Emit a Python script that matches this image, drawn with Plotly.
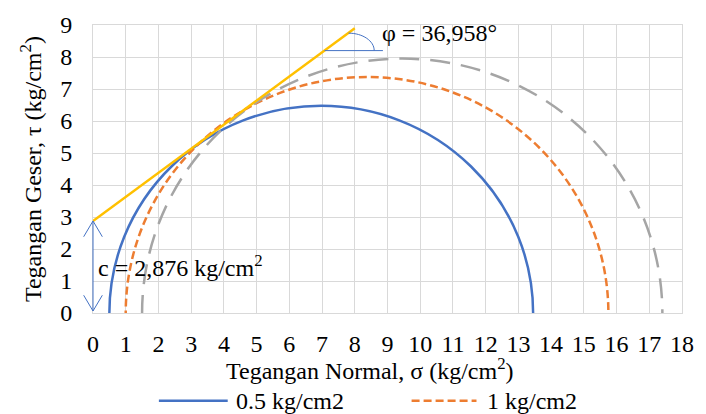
import math
import plotly.graph_objects as go

# ---- data ----
labels = ["0.5 kg/cm2", "1 kg/cm2", "1.5 kg/cm2"]
sigma3 = [0.5, 1.0, 1.5]          # minor principal stress (kg/cm2)
sigma1 = [13.45, 15.75, 17.4]     # major principal stress (kg/cm2)
cohesion = 2.876                  # kg/cm2
phi_deg = 36.958                  # degrees
envelope_x = [0, 8]
x_ticks = list(range(0, 19))
y_ticks = list(range(0, 10))

# ---- styles ----
colors = ["#4472C4", "#ED7D31", "#A5A5A5"]
dashes = ["solid", "8px,4px", "20px,11px"]
FONT = "Liberation Serif, Times New Roman, serif"
FS = 24
W, H = 706, 414
ML, MR, MT, MB = 93, 14, 21, 101
PW, PH = W - ML - MR, H - MT - MB
XMAX, YMAX = 18, 9

def px(x):  # pixel x -> paper
    return (x - ML) / PW

def py(y):  # pixel y -> paper
    return (H - MB - y) / PH

tanphi = math.tan(math.radians(phi_deg))
envelope_y = [cohesion + x * tanphi for x in envelope_x]

fig = go.Figure()
fig.add_trace(go.Scatter(x=envelope_x, y=envelope_y, mode="lines",
                         line=dict(color="#FFC000", width=2.5),
                         showlegend=False, hoverinfo="skip"))

shapes = []
# Mohr circles
for s3, s1, c, d in zip(sigma3, sigma1, colors, dashes):
    r = (s1 - s3) / 2
    shapes.append(dict(type="circle", xref="x", yref="y", x0=s3, x1=s1, y0=-r, y1=r,
                       line=dict(color=c, width=2.5, dash=d), layer="between"))

# angle marker
y_h = 8.2
x_h0 = (y_h - cohesion) / tanphi
shapes.append(dict(type="line", xref="x", yref="y", x0=x_h0, x1=8.86, y0=y_h, y1=y_h,
                   line=dict(color="#4472C4", width=1)))
cx, cy, rx, ry = 7.81, 8.2, 0.784, 0.545
k = 0.5523
path = (f"M{cx},{cy+ry} C{cx+rx*k},{cy+ry} {cx+rx},{cy+ry*k} {cx+rx},{cy}")
shapes.append(dict(type="path", xref="x", yref="y", path=path,
                   line=dict(color="#4472C4", width=1)))

# cohesion double arrow (paper coords so it is not clipped)
x0p = 0
ytop = cohesion / YMAX
ybot = 2 / PH
adx, ady = 9.5 / PW, 16 / PH
blue = dict(color="#4472C4", width=1)
shapes += [
    dict(type="line", xref="paper", yref="paper", x0=x0p, x1=x0p, y0=ybot, y1=ytop, line=blue),
    dict(type="line", xref="paper", yref="paper", x0=x0p - adx, x1=x0p, y0=ytop - ady, y1=ytop, line=blue),
    dict(type="line", xref="paper", yref="paper", x0=x0p + adx, x1=x0p, y0=ytop - ady, y1=ytop, line=blue),
    dict(type="line", xref="paper", yref="paper", x0=x0p - adx, x1=x0p, y0=ybot + ady, y1=ybot, line=blue),
    dict(type="line", xref="paper", yref="paper", x0=x0p + adx, x1=x0p, y0=ybot + ady, y1=ybot, line=blue),
]

# manual legend (first two entries visible, as in the reference)
leg_y = py(402)
leg_items = [(160, 230, 236), (417, 483, 492)]
annotations = []
for (a, b, t), lab, c, d in zip(leg_items, labels, colors, dashes):
    shapes.append(dict(type="line", xref="paper", yref="paper", x0=px(a), x1=px(b),
                       y0=leg_y, y1=leg_y, line=dict(color=c, width=2.5, dash=d)))
    annotations.append(dict(text=lab, xref="paper", yref="paper", x=px(t), y=leg_y,
                            xanchor="left", yanchor="middle", showarrow=False,
                            font=dict(family=FONT, size=FS, color="black")))

annotations += [
    dict(text="φ = 36,958°", xref="x", yref="y", x=8.78, y=8.74, xanchor="left",
         yanchor="middle", showarrow=False, font=dict(family=FONT, size=FS, color="black")),
    dict(text="c = 2,876 kg/cm<sup>2</sup>", xref="x", yref="y", x=0.1, y=1.47,
         xanchor="left", yanchor="middle", showarrow=False,
         font=dict(family=FONT, size=FS, color="black")),
    dict(text="Tegangan Normal, σ (kg/cm<sup>2</sup>)", xref="paper", yref="paper",
         x=px(375), y=py(370), xanchor="center", yanchor="middle", showarrow=False,
         font=dict(family=FONT, size=FS, color="black")),
    dict(text="Tegangan Geser, τ (kg/cm<sup>2</sup>)", xref="paper", yref="paper",
         x=px(30), y=0.5, xanchor="center", yanchor="middle", showarrow=False, textangle=-90,
         font=dict(family=FONT, size=FS, color="black")),
]

grid = "#D9D9D9"
fig.update_layout(
    width=W, height=H, margin=dict(l=ML, r=MR, t=MT, b=MB),
    paper_bgcolor="white", plot_bgcolor="white",
    showlegend=False, shapes=shapes, annotations=annotations,
    font=dict(family=FONT, size=FS, color="black"),
    xaxis=dict(range=[0, XMAX], tickvals=x_ticks, ticktext=[str(v) for v in x_ticks],
               showgrid=True, gridcolor=grid, gridwidth=1, zeroline=False,
               showline=True, linecolor=grid, linewidth=1, mirror=True,
               ticks="", ticklabelstandoff=9, fixedrange=True),
    yaxis=dict(range=[0, YMAX], tickvals=y_ticks, ticktext=[str(v) for v in y_ticks],
               showgrid=True, gridcolor=grid, gridwidth=1, zeroline=False,
               showline=True, linecolor=grid, linewidth=1, mirror=True,
               ticks="", ticklabelstandoff=15, fixedrange=True),
)

fig.write_html("out.html", config={"displayModeBar": False},
               post_script="document.body.style.margin='0';document.body.style.overflow='hidden';")
